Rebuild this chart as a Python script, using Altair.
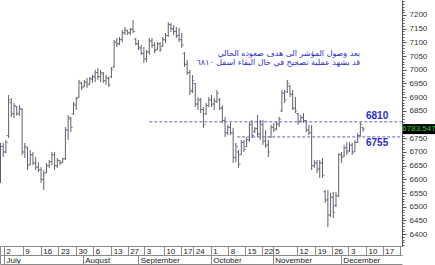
import altair as alt
import pandas as pd

highs = [6733, 6733, 6744, 6908, 6897, 6879, 6868, 6871, 6860, 6733,
         6718, 6707, 6700, 6682, 6663, 6645, 6634, 6660, 6671, 6700,
         6700, 6678, 6671, 6678, 6791, 6835, 6828, 6882, 6901, 6963,
         6955, 6963, 6970, 6974, 6981, 7000, 7007, 7000, 6992, 6981,
         6974, 7010, 7109, 7116, 7120, 7145, 7156, 7145, 7153, 7182,
         7116, 7109, 7090, 7083, 7072, 7116, 7116, 7101, 7101, 7101,
         7120, 7134, 7174, 7171, 7163, 7156, 7153, 7134, 7065, 7036,
         7000, 6981, 6952, 6901, 6897, 6864, 6879, 6901, 6908, 6897,
         6926, 6897, 6871, 6828, 6799, 6806, 6788, 6733, 6707, 6744,
         6744, 6755, 6810, 6817, 6791, 6835, 6817, 6817, 6780, 6744,
         6799, 6806, 6810, 6828, 6926, 6926, 6963, 6945, 6926, 6901,
         6842, 6835, 6842, 6817, 6799, 6799, 6671, 6671, 6671, 6678,
         6561, 6561, 6550, 6554, 6554, 6696, 6700, 6726, 6736, 6736,
         6733, 6744, 6769, 6810, 6791]
lows = [6587, 6682, 6696, 6751, 6828, 6824, 6832, 6832, 6689, 6678,
        6634, 6652, 6652, 6634, 6627, 6587, 6561, 6623, 6642, 6652,
        6634, 6642, 6652, 6660, 6671, 6744, 6773, 6835, 6853, 6897,
        6926, 6937, 6934, 6945, 6952, 6955, 6963, 6955, 6952, 6945,
        6937, 6970, 7007, 7083, 7090, 7101, 7127, 7127, 7127, 7134,
        7090, 7072, 7054, 7025, 7028, 7054, 7080, 7061, 7072, 7065,
        7083, 7098, 7120, 7138, 7127, 7116, 7101, 7080, 7010, 6981,
        6908, 6915, 6864, 6853, 6842, 6788, 6835, 6864, 6864, 6853,
        6879, 6853, 6806, 6755, 6762, 6762, 6660, 6663, 6642, 6689,
        6700, 6718, 6736, 6751, 6769, 6755, 6744, 6726, 6715, 6682,
        6751, 6773, 6780, 6791, 6846, 6879, 6915, 6901, 6853, 6842,
        6799, 6810, 6806, 6773, 6762, 6634, 6642, 6623, 6605, 6605,
        6514, 6426, 6463, 6459, 6499, 6536, 6660, 6682, 6689, 6700,
        6689, 6700, 6733, 6755, 6773]
opens = [6600, 6720, 6700, 6760, 6880, 6840, 6865, 6840, 6855, 6700,
         6715, 6655, 6690, 6660, 6645, 6635, 6600, 6625, 6650, 6665,
         6690, 6650, 6668, 6662, 6675, 6780, 6820, 6840, 6870, 6900,
         6950, 6940, 6955, 6948, 6965, 6975, 6990, 6975, 6985, 6960,
         6968, 6975, 7010, 7100, 7095, 7110, 7135, 7142, 7135, 7148,
         7112, 7095, 7080, 7060, 7040, 7065, 7105, 7090, 7075, 7095,
         7085, 7110, 7125, 7165, 7150, 7140, 7125, 7110, 7060, 7020,
         6990, 6925, 6950, 6875, 6890, 6855, 6840, 6870, 6890, 6875,
         6885, 6890, 6860, 6815, 6770, 6790, 6770, 6680, 6700, 6690,
         6735, 6720, 6745, 6800, 6775, 6785, 6765, 6800, 6740, 6725,
         6755, 6790, 6785, 6800, 6850, 6915, 6920, 6940, 6910, 6860,
         6840, 6812, 6825, 6815, 6780, 6770, 6650, 6660, 6640, 6660,
         6555, 6525, 6470, 6535, 6505, 6540, 6690, 6685, 6715, 6705,
         6725, 6700, 6735, 6760, 6790]
closes = [6720, 6700, 6735, 6890, 6840, 6870, 6840, 6860, 6700, 6720,
          6650, 6690, 6660, 6645, 6635, 6600, 6620, 6650, 6665, 6690,
          6650, 6670, 6660, 6675, 6780, 6825, 6790, 6875, 6895, 6955,
          6935, 6955, 6945, 6968, 6975, 6990, 6975, 6990, 6960, 6970,
          6945, 7000, 7100, 7095, 7110, 7135, 7145, 7135, 7148, 7140,
          7095, 7080, 7060, 7040, 7065, 7105, 7090, 7070, 7095, 7075,
          7110, 7125, 7165, 7150, 7140, 7125, 7110, 7090, 7020, 6990,
          6920, 6960, 6875, 6890, 6855, 6800, 6870, 6890, 6875, 6885,
          6915, 6860, 6815, 6770, 6790, 6770, 6680, 6720, 6655, 6735,
          6710, 6745, 6800, 6760, 6785, 6765, 6800, 6740, 6725, 6700,
          6790, 6780, 6805, 6820, 6915, 6890, 6950, 6910, 6860, 6850,
          6810, 6825, 6815, 6780, 6770, 6650, 6660, 6635, 6660, 6615,
          6525, 6470, 6535, 6480, 6540, 6690, 6680, 6715, 6700, 6725,
          6700, 6735, 6760, 6800, 6784]

week_labels = ["", "2", "9", "16", "23", "30", "6", "13", "27", "3", "10", "17",
               "24", "1", "8", "15", "22", "5", "12", "19", "26", "3", "10", "17", ""]
week_pos = [-0.18, 1.3, 8.2, 14.9, 21.4, 27.9, 34.3, 40.9, 47.0, 53.1, 60.4, 66.7,
            71.3, 77.7, 84.2, 90.4, 96.6, 100.6, 109.6, 116.3, 122.4, 128.6, 135.1, 141.3, 147.7]
month_labels = ["", "July", "August", "September", "October", "November", "December"]
month_pos = [-0.18, 1.3, 30.4, 50.9, 77.7, 100.6, 125.8]

levels = [6810, 6755]
level_start = [55.0, 87.5]
level_labels = ["6810", "6755"]
level_label_x = [139.2, 139.2]

note_lines = ["بعد وصول المؤشر الى هدف صعوده الحالي",
              "قد يشهد عملية تصحيح في حال البقاء اسفل ٦٨١٠"]
note_x = [132.9, 132.9]
note_y = [7058, 7025]

last_price = 6783.547

X_MIN, X_MAX = -0.18, 148.4
Y_MIN, Y_MAX = 6356.9, 7254.7

BAR = "#625e70"
BLUE = "#2a2ad0"
AX = "#8a8a8a"

df = pd.DataFrame({"idx": list(range(len(highs))), "high": highs, "low": lows,
                   "open": opens, "close": closes})
lv = pd.DataFrame({"level": levels, "start": level_start, "end": [X_MAX] * 2,
                   "label": level_labels, "lx": level_label_x})
notes = pd.DataFrame({"t": note_lines, "x": note_x, "y": note_y})
tag = pd.DataFrame({"p": [last_price], "t": [f"{last_price:.3f}"]})

xs = alt.Scale(domain=[X_MIN, X_MAX], nice=False, zero=False)
ys = alt.Scale(domain=[Y_MIN, Y_MAX], nice=False, zero=False)


def lab_expr(vals, labs):
    arr_v = "[" + ",".join(str(v) for v in vals) + "]"
    arr_l = "[" + ",".join("'" + l + "'" for l in labs) + "]"
    return f"{arr_l}[indexof({arr_v}, datum.value)]"


week_axis = alt.Axis(orient="bottom", values=week_pos, labelExpr=lab_expr(week_pos, week_labels),
                     tickSize=9, tickColor=AX, domainColor=AX, labelAlign="left", labelOffset=2,
                     labelBaseline="middle", labelPadding=-4, labelFontSize=8, labelColor="#222",
                     labelOverlap=False, labelFlush=False, labelBound=False, grid=False, title=None,
                     labelFont="Liberation Sans", offset=0)
month_axis = alt.Axis(orient="bottom", values=month_pos, labelExpr=lab_expr(month_pos, month_labels),
                      tickSize=9, tickColor=AX, domainColor=AX, labelAlign="left", labelOffset=2,
                      labelBaseline="middle", labelPadding=-4, labelFontSize=8, labelColor="#222",
                      labelOverlap=False, labelFlush=False, labelBound=False, grid=False, title=None,
                      labelFont="Liberation Sans", offset=9)
bottom_axis = alt.Axis(orient="bottom", values=[], labels=False, ticks=False, domainColor=AX,
                       grid=False, title=None, offset=18)

y_major = alt.Axis(orient="right", values=list(range(6400, 7201, 50)), tickSize=4, tickColor="#555",
                   domainColor="#555", labelFontSize=8, labelColor="#333", labelPadding=3,
                   labelExpr="datum.value == 6800 ? '' : format(datum.value, 'd')",
                   labelFont="Liberation Sans", grid=False, title=None, labelOverlap=False)
y_minor = alt.Axis(orient="right", values=list(range(6360, 7255, 10)), tickSize=2, tickColor="#555",
                   labels=False, domain=False, grid=False, title=None)

wick = alt.Chart(df).mark_rule(color=BAR, strokeWidth=1).encode(
    x=alt.X("idx:Q", scale=xs, axis=week_axis),
    y=alt.Y("low:Q", scale=ys, axis=y_major),
    y2="high:Q")
open_t = alt.Chart(df).mark_tick(orient="horizontal", color=BAR, size=2, thickness=1, xOffset=-1).encode(
    x=alt.X("idx:Q", scale=xs, axis=None), y=alt.Y("open:Q", scale=ys, axis=None))
close_t = alt.Chart(df).mark_tick(orient="horizontal", color=BAR, size=2, thickness=1, xOffset=1).encode(
    x=alt.X("idx:Q", scale=xs, axis=month_axis), y=alt.Y("close:Q", scale=ys, axis=y_minor))

lines = alt.Chart(lv).mark_rule(color="#6060c8", strokeWidth=1, strokeDash=[3, 2]).encode(
    x=alt.X("start:Q", scale=xs, axis=bottom_axis), x2="end:Q",
    y=alt.Y("level:Q", scale=ys, axis=None))
lab_top = alt.Chart(lv).transform_filter("datum.level > 6800").mark_text(
    color=BLUE, fontSize=10, fontWeight="bold", font="Liberation Sans", baseline="bottom", dy=-1).encode(
    x=alt.X("lx:Q", scale=xs, axis=None), y=alt.Y("level:Q", scale=ys, axis=None), text="label:N")
lab_bot = alt.Chart(lv).transform_filter("datum.level < 6800").mark_text(
    color=BLUE, fontSize=10, fontWeight="bold", font="Liberation Sans", baseline="top", dy=1).encode(
    x=alt.X("lx:Q", scale=xs, axis=None), y=alt.Y("level:Q", scale=ys, axis=None), text="label:N")

note = alt.Chart(notes).mark_text(color=BLUE, fontSize=8, font="DejaVu Sans",
                                  align="right").encode(
    x=alt.X("x:Q", scale=xs, axis=None), y=alt.Y("y:Q", scale=ys, axis=None), text="t:N")

tag_bg = alt.Chart(tag).mark_rule(color="#000", strokeWidth=10, strokeCap="butt").encode(
    x=alt.value(403), x2=alt.value(435), y=alt.Y("p:Q", scale=ys, axis=None))
tag_tx = alt.Chart(tag).mark_text(color="#3bd13b", fontSize=8, font="Liberation Sans", align="center").encode(
    x=alt.value(419), y=alt.Y("p:Q", scale=ys, axis=None), text="t:N")

chart = alt.layer(wick, open_t, close_t, lines, lab_top, lab_bot, note, tag_bg, tag_tx).resolve_axis(
    x="independent", y="independent").properties(
    width=402, height=246, autosize="none",
    padding={"left": 0, "top": 0, "right": 33, "bottom": 19},
    background="white").configure_view(stroke=None)

chart.save("out.html", embed_options={"renderer": "svg", "actions": False})
